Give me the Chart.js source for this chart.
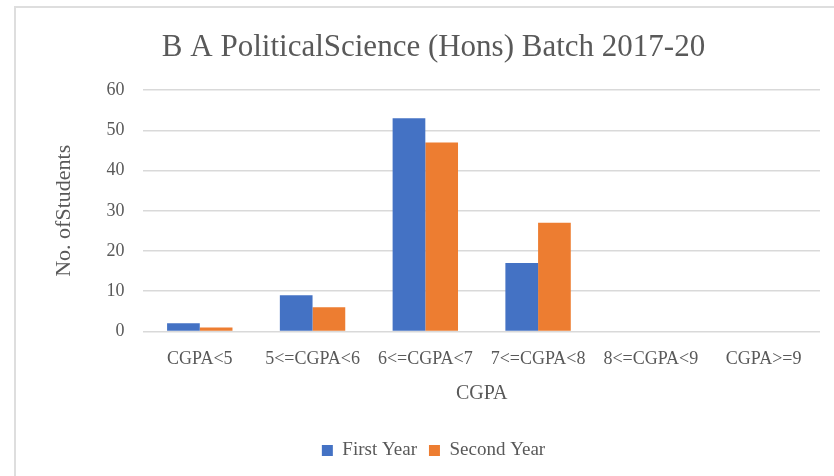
<!DOCTYPE html>
<html>
<head>
<meta charset="utf-8">
<script src="https://cdn.jsdelivr.net/npm/chart.js@4.4.0/dist/chart.umd.min.js"></script>
<style>
  html, body { margin: 0; padding: 0; background: #fff; }
  #frame { position: absolute; left: 14px; top: 6px; width: 820px; height: 470px;
           border-top: 2px solid #dedede; border-left: 2px solid #dedede; }
  #wrap { position: absolute; left: 16px; top: 8px; width: 818px; height: 468px; }
</style>
</head>
<body>
<div id="frame"></div>
<div id="wrap"><canvas id="c"></canvas></div>
<script>
const categories = ["CGPA<5", "5<=CGPA<6", "6<=CGPA<7", "7<=CGPA<8", "8<=CGPA<9", "CGPA>=9"];
const firstYear = [2, 9, 53, 17, 0, 0];
const secondYear = [1, 6, 47, 27, 0, 0];
const yTicks = [0, 10, 20, 30, 40, 50, 60];

const FONT = "'Liberation Serif', 'DejaVu Serif', serif";
const GREY = "#595959";

new Chart(document.getElementById('c'), {
  type: 'bar',
  data: {
    labels: categories,
    datasets: [
      { label: 'First Year', data: firstYear, backgroundColor: '#4472C4',
        categoryPercentage: 0.58, barPercentage: 1.0 },
      { label: 'Second Year', data: secondYear, backgroundColor: '#ED7D31',
        categoryPercentage: 0.58, barPercentage: 1.0 }
    ]
  },
  options: {
    responsive: true,
    maintainAspectRatio: false,
    animation: false,
    layout: { padding: { left: 31, right: 14, top: 0, bottom: 6 } },
    plugins: {
      title: {
        display: true,
        text: 'B A PoliticalScience (Hons) Batch 2017-20',
        color: GREY,
        font: { family: FONT, size: 31, weight: 'normal' },
        padding: { top: 21, bottom: 24 }
      },
      legend: {
        position: 'bottom',
        labels: { color: GREY, font: { family: FONT, size: 19 },
                  boxWidth: 11, boxHeight: 11, padding: 12 }
      },
      tooltip: { enabled: false }
    },
    scales: {
      x: {
        grid: { display: false },
        border: { display: false },
        ticks: { color: GREY, font: { family: FONT, size: 18 }, padding: 9, maxRotation: 0 },
        title: { display: true, text: 'CGPA', color: GREY,
                 font: { family: FONT, size: 20 }, padding: { top: 3, bottom: 23 } }
      },
      y: {
        min: 0, max: 60,
        afterBuildTicks: (axis) => { axis.ticks = yTicks.map(v => ({ value: v })); },
        grid: { color: '#d9d9d9', lineWidth: 1.5, drawTicks: false },
        border: { display: false },
        ticks: { color: GREY, font: { family: FONT, size: 18 }, padding: 19 },
        title: { display: true, text: 'No. ofStudents', color: GREY,
                 font: { family: FONT, size: 22 }, padding: { bottom: 10 } }
      }
    }
  }
});
</script>
</body>
</html>
